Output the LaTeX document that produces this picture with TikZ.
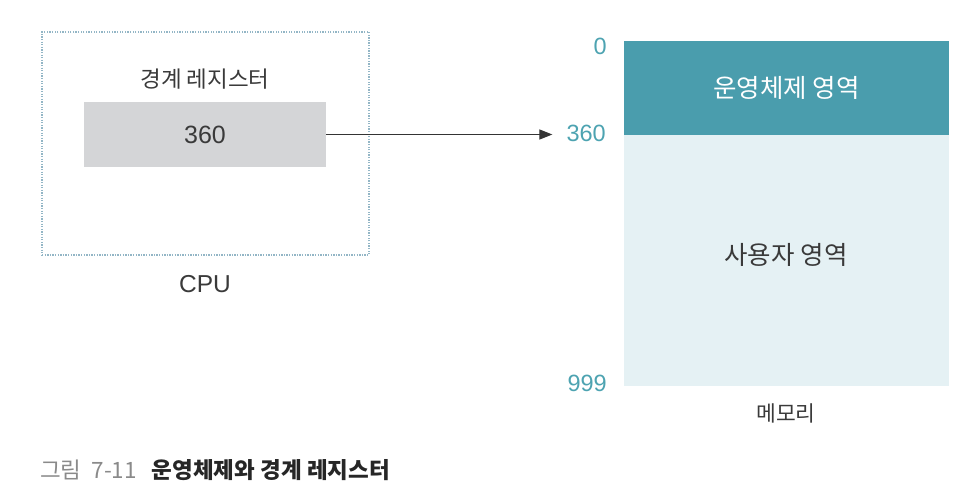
\documentclass[tikz,border=0pt]{standalone}
\usepackage{fontspec}
\setmainfont{Liberation Sans}
\newfontfamily\kr{Noto Sans CJK KR}
\usetikzlibrary{arrows.meta}
\definecolor{teal1}{HTML}{4A9DAD}
\definecolor{lightmem}{HTML}{E5F1F4}
\definecolor{graybox}{HTML}{D4D5D7}
\definecolor{dotc}{HTML}{93B6C6}
\definecolor{numc}{HTML}{4DA3B1}
\definecolor{txt}{HTML}{3A3A3A}
\definecolor{capgray}{HTML}{8A8A8A}
\tikzset{
  box/.style={rectangle, inner sep=0pt, outer sep=0pt},
  krlabel/.style={inner sep=0pt, text=txt, font=\kr\fontsize{#1}{#1}\selectfont},
  latlabel/.style={inner sep=0pt, text=txt, font=\fontsize{#1}{#1}\selectfont},
  addr/.style={inner sep=0pt, anchor=east, text=numc, font=\fontsize{23.5}{23.5}\selectfont},
  arr/.style={draw=txt!90!black, line width=1.1pt, -{Triangle[length=13pt,width=10pt]}},
}
\begin{document}
\begin{tikzpicture}[x=1pt,y=-1pt]
\useasboundingbox (0,0) rectangle (968,502);
% CPU
\node[box, draw=dotc, line width=1.3pt, dash pattern=on 1.3pt off 1.3pt,
      minimum width=327pt, minimum height=223pt] (cpu) at (205.5,143.5) {};
\node[krlabel=22.5] (regname) at (205,79) {경계 레지스터};
\node[box, fill=graybox, minimum width=242pt, minimum height=65pt,
      text=txt, font=\fontsize{25}{25}\selectfont] (reg) at (205,134.5) {360};
\node[latlabel=24.5] (cpulabel) at (205,284) {CPU};
% Memory
\node[box, fill=teal1, minimum width=325pt, minimum height=94pt,
      text=white, font=\kr\fontsize{25.5}{25.5}\selectfont] (os) at (786.5,88) {운영체제 영역};
\node[box, fill=lightmem, minimum width=325pt, minimum height=251pt] (user) at (786.5,260.5) {};
\node[krlabel=25.5] (usertext) at (786,255) {사용자 영역};
\node[krlabel=21.5] (memlabel) at (786,413) {메모리};
\node[addr] (m0) at (607,46) {0};
\node[addr] (m360) at (606,133.5) {360};
\node[addr] (m999) at (607,383) {999};
% arrow
\draw[arr] (reg.east) -- ([xshift=-14pt]m360.west |- reg.east);
% caption
\node[anchor=west, inner sep=0pt] (caption) at (40,470)
  {\kr\fontsize{22.5}{22.5}\selectfont\textcolor{capgray}{그림\hspace{10pt}7-11}\hspace{15pt}\textcolor{black!85}{\bfseries 운영체제와 경계 레지스터}};
\end{tikzpicture}
\end{document}
